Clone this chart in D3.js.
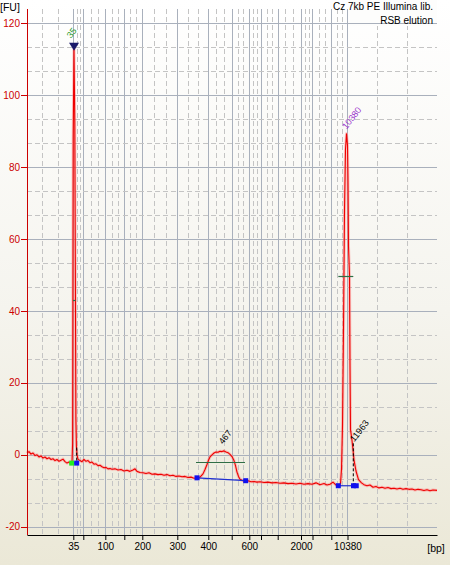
<!DOCTYPE html>
<html><head><meta charset="utf-8">
<script src="https://cdn.jsdelivr.net/npm/d3@7"></script>
<style>body{margin:0;background:#fff;} svg{display:block;} text{font-family:"Liberation Sans",Arial,sans-serif;}</style>
</head><body>
<script>
// ---- data ----
const ladderSizes = [35,50,100,150,200,300,400,500,600,700,1000,2000,3000,7000,10380];
const ladderTimes = [49.26,51.26,55.66,59.46,63.06,70.06,76.26,80.94,84.46,86.80,90.14,94.80,97.10,100.86,104.10];
const labeledSizes = [35,100,200,300,400,600,2000,10380];
const yTicks = [-20,0,20,40,60,80,100,120];
const titleLines = ["Cz 7kb PE Illumina lib.", "RSB elution"];

const traceTime = [40.0,40.4,40.8,41.2,41.6,42.0,42.4,42.8,43.2,43.6,44.0,44.4,44.8,45.2,45.6,46.0,46.4,46.8,47.2,47.6,48.0,48.4,48.8,49.0,49.12,49.24,49.40,49.56,49.70,49.78,49.88,50.0,50.2,50.6,51.0,51.4,51.8,52.2,52.6,53.0,53.4,53.8,54.2,54.6,55.0,55.4,55.8,56.2,56.6,57.0,57.6,58.2,58.8,59.4,60.0,60.6,61.2,61.6,62.0,62.6,63.2,63.8,64.4,65.0,65.6,66.2,66.8,67.4,68.0,68.6,69.2,69.8,70.4,71.0,71.6,72.2,72.8,73.4,74.0,74.6,75.2,75.6,76.0,76.3,76.6,77.0,77.4,77.8,78.2,78.6,79.0,79.4,79.8,80.2,80.6,81.0,81.4,81.7,82.0,82.3,82.6,83.0,83.6,84.2,84.8,85.4,86.0,86.6,87.4,88.2,89.0,89.8,90.6,91.4,92.2,93.0,93.8,94.6,95.4,96.2,97.0,97.8,98.6,99.4,100.0,100.6,101.2,101.8,102.3,102.7,102.9,103.1,103.3,103.5,103.7,103.9,104.1,104.2,104.3,104.5,104.6,104.7,105.0,105.2,105.4,105.8,106.3,106.9,107.4,108.0,108.6,109.2,109.8,110.4,111.0,111.6,112.2,112.8,113.4,114.0,114.6,115.2,115.8,116.4,117.0,117.6,118.2,118.8,119.4,120.0,120.6,121.2,122.0];
const traceFU = [0.5,0.9,0.2,0.5,-0.2,0.0,-0.6,-0.3,-0.9,-0.6,-1.1,-0.8,-1.3,-1.1,-1.6,-1.3,-1.8,-1.5,-1.2,-1.9,-2.3,-2.0,-2.5,-2.2,3,88,113.5,92,40,10,2.5,0.0,-1.2,-1.6,-1.9,-1.3,-1.8,-1.6,-2.2,-2.0,-2.6,-2.5,-3.0,-2.9,-3.3,-3.6,-3.5,-3.9,-3.8,-4.0,-3.9,-4.2,-4.1,-4.5,-4.3,-4.6,-4.2,-3.9,-4.6,-4.9,-5.0,-5.2,-5.0,-5.4,-5.3,-5.5,-5.4,-5.7,-5.5,-5.8,-5.7,-6.0,-5.9,-6.1,-6.0,-6.3,-6.2,-6.5,-6.4,-6.2,-5.3,-4.1,-2.7,-1.5,-0.6,0.0,0.5,0.8,0.7,1.0,0.9,1.1,0.8,0.6,0.1,-0.5,-1.6,-3.0,-4.8,-6.0,-6.8,-7.1,-7.3,-7.2,-7.5,-7.4,-7.6,-7.5,-7.7,-7.6,-7.8,-7.7,-7.9,-7.8,-8.0,-7.9,-8.1,-7.9,-8.2,-8.0,-8.2,-7.8,-8.3,-8.0,-8.4,-8.2,-7.6,-8.4,-8.6,-8.0,-4,8,35,68,85,89.3,86,76,58,50,25,7,4,1.5,-1.5,-4.5,-6.9,-7.8,-8.3,-8.6,-8.4,-9.0,-8.8,-9.2,-9.0,-9.3,-9.1,-9.4,-9.3,-9.5,-9.3,-9.6,-9.4,-9.6,-9.5,-9.8,-9.6,-9.7,-9.9,-9.7,-10.0,-9.8,-9.9];

const peakNames = ["35","467","10380","11963"];
const peakTimes = [49.40, 79.4, 103.9, 105.26];
const peakFU = [113.5, 1.1, 89.3, 3.2];

// peak regions (baseline start/end, half-height line)
const regionStartT = [48.94, 74.0, 102.26];
const regionEndT = [49.94, 83.74, 105.85];
const regionStartFU = [-2.3, -6.4, -8.6];
const regionEndFU = [-2.3, -7.2, -8.6];
const extraSquareT = [105.3];
const extraSquareFU = [-8.6];
const halfLineT0 = [49.2, 73.8, 102.26];
const halfLineT1 = [49.7, 83.6, 105.26];
const halfLineFU = [43, -1.9, 49.6];

// ---- chart ----
const W = 450, H = 565;
const svg = d3.select("body").append("svg").attr("width", W).attr("height", H);
const defs = svg.append("defs");
const grad = defs.append("linearGradient").attr("id","bg").attr("x1",0).attr("y1",0).attr("x2",0).attr("y2",1);
grad.append("stop").attr("offset","0%").attr("stop-color","#ffffff");
grad.append("stop").attr("offset","55%").attr("stop-color","#f5f4ee");
grad.append("stop").attr("offset","100%").attr("stop-color","#ebe8d7");
svg.append("rect").attr("width",W).attr("height",H).attr("fill","url(#bg)");

const x = d3.scaleLinear().domain([40, 122]).range([27, 437]);
const y = d3.scaleLinear().domain([-22.3, 124]).range([535, 9]);

// grid
const grid = svg.append("g");
// minor vertical (thirds between ladder positions)
const vBounds = [x.domain()[0], ...ladderTimes, x.domain()[1]];
const minorV = [];
for (let i = 0; i < vBounds.length - 1; i++) {
  const a = vBounds[i], b = vBounds[i+1];
  minorV.push(a + (b-a)/3, a + 2*(b-a)/3);
}
grid.selectAll(".mv").data(minorV).join("line")
  .attr("x1", d => Math.round(x(d))+0.5).attr("x2", d => Math.round(x(d))+0.5)
  .attr("y1", y(124)).attr("y2", 535)
  .attr("stroke","#c4c4c4").attr("stroke-dasharray","5,3");
grid.selectAll(".MV").data(ladderTimes).join("line")
  .attr("x1", d => Math.round(x(d))+0.5).attr("x2", d => Math.round(x(d))+0.5)
  .attr("y1", y(124)).attr("y2", 535)
  .attr("stroke","#a9b0bc");
// title box cover
svg.append("rect").attr("x", 350).attr("y", 0).attr("width", 87).attr("height", 26).attr("fill", "#fdfdfc");
// minor horizontal
const minorH = [];
for (let i = 0; i < yTicks.length - 1; i++) {
  const a = yTicks[i], b = yTicks[i+1];
  minorH.push(a + (b-a)/3, a + 2*(b-a)/3);
}
grid.selectAll(".mh").data(minorH).join("line")
  .attr("x1", 27).attr("x2", 437)
  .attr("y1", d => Math.round(y(d))+0.5).attr("y2", d => Math.round(y(d))+0.5)
  .attr("stroke","#c4c4c4").attr("stroke-dasharray","5,3");
svg.append("g").selectAll("line").data(yTicks).join("line")
  .attr("x1", 27).attr("x2", 437)
  .attr("y1", d => Math.round(y(d))+0.5).attr("y2", d => Math.round(y(d))+0.5)
  .attr("stroke","#a9b0bc");

// trace
const pts = traceTime.map((t,i) => [t, traceFU[i]]);
const line = d3.line().x(d => x(d[0])).y(d => y(d[1]));
svg.append("path").attr("d", line(pts)).attr("fill","none").attr("stroke","#ff8080").attr("stroke-opacity",0.45).attr("stroke-width",3).attr("stroke-linejoin","round");
svg.append("path").attr("d", line(pts)).attr("fill","none").attr("stroke","#ee0000").attr("stroke-width",1.1).attr("stroke-linejoin","round");

// half-height lines
svg.append("g").selectAll("line").data(halfLineFU).join("line")
  .attr("x1", (d,i) => x(halfLineT0[i])).attr("x2", (d,i) => x(halfLineT1[i]))
  .attr("y1", d => Math.round(y(d))+0.5).attr("y2", d => Math.round(y(d))+0.5)
  .attr("stroke","#2f6e45").attr("stroke-width",1.2);

// baselines
svg.append("g").selectAll("line").data(regionStartT).join("line")
  .attr("x1", d => x(d)).attr("x2", (d,i) => x(regionEndT[i]))
  .attr("y1", (d,i) => y(regionStartFU[i])).attr("y2", (d,i) => y(regionEndFU[i]))
  .attr("stroke","#1f2fd0").attr("stroke-width",1.2);

// dashed peak drop lines
const dropT = [regionEndT[0], peakTimes[3]];
const dropTop = [2, peakFU[3]];
const dropBottom = [regionEndFU[0], regionEndFU[2]];
svg.append("g").selectAll("line").data(dropT).join("line")
  .attr("x1", d => x(d)).attr("x2", d => x(d))
  .attr("y1", (d,i) => y(dropTop[i])).attr("y2", (d,i) => y(dropBottom[i]))
  .attr("stroke","#000").attr("stroke-dasharray","3,2");

// squares
const sq = 5;
svg.append("rect").attr("x", x(regionStartT[0]) - sq/2).attr("y", y(regionStartFU[0]) - sq/2)
  .attr("width", sq).attr("height", sq).attr("fill", "#22ee22");
const blueT = [regionEndT[0], regionStartT[1], regionEndT[1], regionStartT[2], regionEndT[2], ...extraSquareT];
const blueFU = [regionEndFU[0], regionStartFU[1], regionEndFU[1], regionStartFU[2], regionEndFU[2], ...extraSquareFU];
svg.append("g").selectAll("rect").data(blueT).join("rect")
  .attr("x", d => x(d) - sq/2).attr("y", (d,i) => y(blueFU[i]) - sq/2)
  .attr("width", sq).attr("height", sq).attr("fill", "#1010ee");

// lower marker triangle
const px = x(peakTimes[0]), py = y(peakFU[0]);
svg.append("path").attr("d", `M${px-5},${py-4}L${px+5},${py-4}L${px},${py+4}Z`).attr("fill","#1b1b6a");

// peak labels
const labelColors = ["#2a9a2a", "#000000", "#9a33cc", "#000000"];
const labelDx = [-3, -1, 0, 1];
const labelDy = [-8, -6, -4, -1];
svg.append("g").selectAll("text").data(peakNames).join("text")
  .attr("transform", (d,i) => `translate(${x(peakTimes[i]) + labelDx[i]},${y(peakFU[i]) + labelDy[i]}) rotate(-52)`)
  .attr("font-size", 9).attr("fill", (d,i) => labelColors[i]).text(d => d);

// y axis
svg.append("line").attr("x1",27.5).attr("x2",27.5).attr("y1",9).attr("y2",535).attr("stroke","#cc0000");
svg.append("g").selectAll("line").data(yTicks).join("line")
  .attr("x1", 21).attr("x2", 27).attr("y1", d => Math.round(y(d))+0.5).attr("y2", d => Math.round(y(d))+0.5)
  .attr("stroke","#cc0000");
svg.append("g").selectAll("text").data(yTicks).join("text")
  .attr("x", 20).attr("y", d => y(d) + 3.5).attr("text-anchor","end")
  .attr("font-size", 10).attr("fill","#cc0000").text(d => d);
svg.append("text").attr("x", 0).attr("y", 11).attr("font-size", 10.5).attr("fill","#000").text("[FU]");

// x axis
const xAxis = d3.axisBottom(x).tickValues(ladderTimes).tickSize(5).tickSizeOuter(0)
  .tickFormat((d,i) => labeledSizes.includes(ladderSizes[i]) ? String(ladderSizes[i]) : "");
const gx = svg.append("g").attr("transform","translate(0,535)").call(xAxis);
gx.select(".domain").attr("stroke","#000");
gx.selectAll(".tick line").attr("stroke","#000");
gx.selectAll(".tick text").attr("font-size",10).attr("fill","#000").attr("font-family","Liberation Sans, Arial, sans-serif").attr("dy","0.95em").attr("y",5);
svg.append("text").attr("x", 436).attr("y", 552).attr("text-anchor","middle").attr("font-size", 10.5).attr("fill","#000").text("[bp]");

// title
svg.append("g").selectAll("text").data(titleLines).join("text")
  .attr("x", 433).attr("y", (d,i) => 10 + i*13.5).attr("text-anchor","end")
  .attr("font-size", 10).attr("fill","#000").text(d => d);
</script>
</body></html>
